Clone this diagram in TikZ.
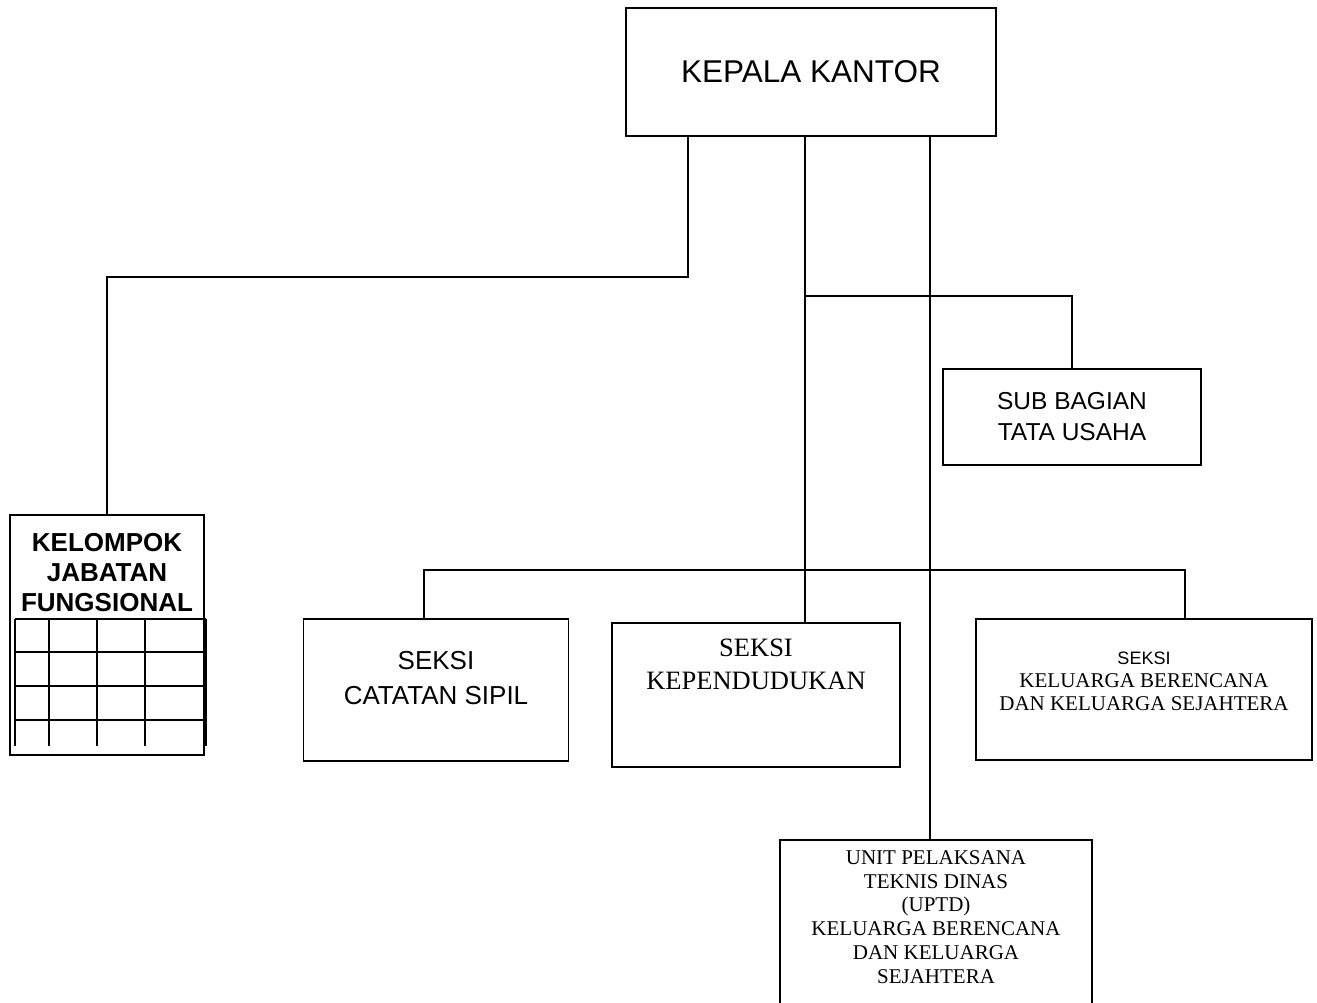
\documentclass[tikz,border=0pt]{standalone}
\usepackage{fontspec}
\setmainfont{Liberation Serif}
\setsansfont{Liberation Sans}

\begin{document}
\begin{tikzpicture}[x=1pt,y=-1pt,
		kotak/.style={draw, line width=1.8pt, inner sep=0pt, align=center},
		teks/.style={inner sep=0pt, align=center},
		garis/.style={line width=1.8pt}]
		\useasboundingbox (0,0) rectangle (1317,1003);

		%KOTAK
		\node[kotak, minimum width=370, minimum height=128, font=\sffamily\fontsize{31.5}{36}\selectfont] (kepala) at (811,72) {KEPALA KANTOR};
		\node[kotak, minimum width=258, minimum height=96, font=\sffamily\fontsize{24.5}{31}\selectfont] (tatausaha) at (1072,417) {SUB BAGIAN\\TATA USAHA};
		\node[kotak, minimum width=194, minimum height=240] (kelompok) at (107,635) {};
		\node[kotak, minimum width=265, minimum height=142] (catatan) at (436,690) {};
		\node[kotak, minimum width=288, minimum height=144] (kependudukan) at (756,695) {};
		\node[kotak, minimum width=336, minimum height=141] (kb) at (1144,689.5) {};
		\node[kotak, minimum width=312, minimum height=170] (uptd) at (936,925) {};

		%TEKS
		\node[teks, font=\sffamily\bfseries\fontsize{26}{30}\selectfont] (kelompok-t) at (107,573) {KELOMPOK\\JABATAN\\FUNGSIONAL};
		\node[teks, font=\sffamily\fontsize{26}{35}\selectfont] (catatan-t) at (436,678) {SEKSI\\CATATAN SIPIL};
		\node[teks, font=\fontsize{26.5}{33}\selectfont] (kependudukan-t) at (756,664) {SEKSI\\KEPENDUDUKAN};
		\node[teks, font=\fontsize{21}{23}\selectfont] (kb-t) at (1144,681) {{\sffamily\fontsize{18}{24}\selectfont SEKSI}\\KELUARGA BERENCANA\\DAN KELUARGA SEJAHTERA};
		\node[teks, font=\fontsize{21}{23.8}\selectfont] (uptd-t) at (936,917) {UNIT PELAKSANA\\TEKNIS DINAS\\(UPTD)\\KELUARGA BERENCANA\\DAN KELUARGA\\SEJAHTERA};

		%TABEL
		\foreach \y in {619,652,686,720}
			\draw[garis] (15,\y) -- (206,\y);
		\foreach \x in {15,49,97,145,206}
			\draw[garis] (\x,619) -- (\x,746);

		%GARIS
		\coordinate (kiri) at (688,277);
		\coordinate (tengah) at (805,570);
		\coordinate (tu) at (805,296);
		\coordinate (kanan) at (930,840);
		\coordinate (b1) at (424,570);
		\coordinate (b3) at (1185,570);
		\draw[garis] (kiri |- kepala.south) -- (kiri) -- (kiri -| kelompok.north) -- (kelompok.north);
		\draw[garis] (tengah |- kepala.south) -- (tengah |- kependudukan.north);
		\draw[garis] (tu) -- (tu -| tatausaha.north) -- (tatausaha.north);
		\draw[garis] (b1 |- catatan.north) -- (b1) -- (b3) -- (b3 |- kb.north);
		\draw[garis] (kanan |- kepala.south) -- (kanan |- uptd.north);
	\end{tikzpicture}
\end{document}
